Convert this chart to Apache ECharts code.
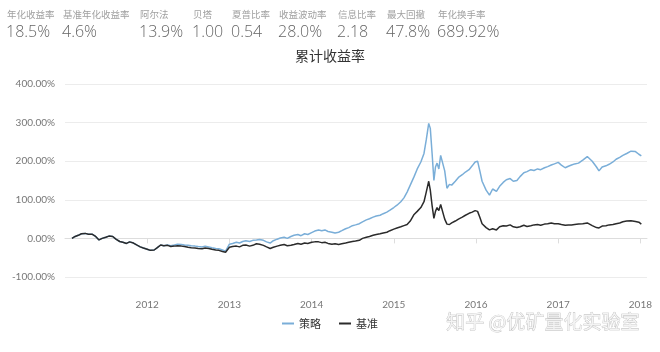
<!DOCTYPE html>
<html>
<head>
<meta charset="utf-8">
<script src="https://cdn.jsdelivr.net/npm/echarts@6/dist/echarts.min.js"></script>
<style>
  html, body { margin: 0; padding: 0; background: #fff; }
  #chart { width: 660px; height: 352px; }
</style>
</head>
<body>
<div id="chart"></div>
<script>
    // 指标
    var statNames = ['年化收益率', '基准年化收益率', '阿尔法', '贝塔', '夏普比率', '收益波动率', '信息比率', '最大回撤', '年化换手率'];
    var statValues = ['18.5%', '4.6%', '13.9%', '1.00', '0.54', '28.0%', '2.18', '47.8%', '689.92%'];

    var seriesNames = ['策略', '基准'];
    var yearTicks = [2012, 2013, 2014, 2015, 2016, 2017, 2018];

    // 累计收益率 (%)
    var dates = [
        '2011-02-01', '2011-02-15', '2011-03-01', '2011-03-15', '2011-04-01', '2011-04-15', '2011-05-01',
        '2011-05-15', '2011-06-01', '2011-06-15', '2011-07-01', '2011-07-15', '2011-08-01', '2011-08-15',
        '2011-09-01', '2011-09-15', '2011-10-01', '2011-10-15', '2011-11-01', '2011-11-15', '2011-12-01',
        '2011-12-15', '2012-01-01', '2012-01-15', '2012-02-01', '2012-02-15', '2012-03-01', '2012-03-15',
        '2012-04-01', '2012-04-15', '2012-05-01', '2012-05-15', '2012-06-01', '2012-06-15', '2012-07-01',
        '2012-07-15', '2012-08-01', '2012-08-15', '2012-09-01', '2012-09-15', '2012-10-01', '2012-10-15',
        '2012-11-01', '2012-11-15', '2012-12-01', '2012-12-15', '2013-01-01', '2013-01-15', '2013-02-01',
        '2013-02-15', '2013-03-01', '2013-03-15', '2013-04-01', '2013-04-15', '2013-05-01', '2013-05-15',
        '2013-06-01', '2013-06-15', '2013-07-01', '2013-07-15', '2013-08-01', '2013-08-15', '2013-09-01',
        '2013-09-15', '2013-10-01', '2013-10-15', '2013-11-01', '2013-11-15', '2013-12-01', '2013-12-15',
        '2014-01-01', '2014-01-15', '2014-02-01', '2014-02-15', '2014-03-01', '2014-03-15', '2014-04-01',
        '2014-04-15', '2014-05-01', '2014-05-15', '2014-06-01', '2014-06-15', '2014-07-01', '2014-07-15',
        '2014-08-01', '2014-08-15', '2014-09-01', '2014-09-15', '2014-10-01', '2014-10-15', '2014-11-01',
        '2014-11-15', '2014-12-01', '2014-12-15', '2015-01-01', '2015-01-15', '2015-02-01', '2015-02-15',
        '2015-03-01', '2015-03-15', '2015-04-01', '2015-04-15', '2015-05-01', '2015-05-15', '2015-05-25',
        '2015-06-05', '2015-06-12', '2015-06-20', '2015-06-28', '2015-07-05', '2015-07-12', '2015-07-20',
        '2015-07-28', '2015-08-05', '2015-08-15', '2015-08-25', '2015-09-05', '2015-09-15', '2015-10-01',
        '2015-10-15', '2015-11-01', '2015-11-15', '2015-12-01', '2015-12-15', '2015-12-28', '2016-01-08',
        '2016-01-18', '2016-01-28', '2016-02-15', '2016-03-01', '2016-03-15', '2016-04-01', '2016-04-15',
        '2016-05-01', '2016-05-15', '2016-06-01', '2016-06-15', '2016-07-01', '2016-07-15', '2016-08-01',
        '2016-08-15', '2016-09-01', '2016-09-15', '2016-10-01', '2016-10-15', '2016-11-01', '2016-11-15',
        '2016-12-01', '2016-12-15', '2017-01-01', '2017-01-15', '2017-02-01', '2017-02-15', '2017-03-01',
        '2017-03-15', '2017-04-01', '2017-04-20', '2017-05-10', '2017-06-01', '2017-06-20', '2017-07-01',
        '2017-07-15', '2017-08-01', '2017-08-15', '2017-09-01', '2017-09-15', '2017-10-01', '2017-10-15',
        '2017-11-01', '2017-11-20', '2017-12-10', '2017-12-25', '2018-01-05'
    ];
    var strategy = [
        0, 5, 8, 12, 13, 11, 11, 6, -4, 0, 3, 6, 5, -2,
        -8, -10, -13, -9, -12, -17, -22, -25, -28, -31, -30, -24, -17, -19,
        -17, -19, -17, -15, -16, -17, -18, -19, -20, -21, -22, -20, -22, -24,
        -26, -27, -30, -33, -15, -13, -10, -12, -8, -6, -8, -5, -4, -3,
        -5, -9, -12, -6, -2, 1, 3, 0, 5, 8, 10, 7, 12, 10,
        15, 19, 22, 20, 22, 18, 16, 14, 16, 20, 25, 28, 33, 35,
        38, 43, 48, 51, 55, 58, 60, 64, 68, 73, 80, 86, 95, 105,
        120, 138, 160, 180, 198, 220, 255, 298, 285, 220, 150, 185, 195, 180,
        215, 220, 175, 130, 140, 138, 148, 158, 165, 172, 178, 188, 198, 200,
        175, 148, 125, 112, 128, 122, 135, 145, 152, 155, 148, 150, 160, 170,
        173, 178, 176, 180, 178, 183, 186, 190, 193, 197, 190, 183, 187, 190,
        193, 195, 203, 212, 200, 185, 175, 185, 188, 192, 198, 205, 210, 215,
        220, 226, 225, 218, 214, 212, 210
    ];
    var benchmark = [
        0, 5, 8, 12, 13, 11, 11, 6, -4, 0, 3, 6, 5, -2,
        -8, -10, -13, -9, -12, -17, -22, -25, -28, -31, -30, -24, -17, -19,
        -18, -21, -20, -19, -20, -21, -23, -24, -25, -26, -27, -25, -26, -28,
        -30, -31, -34, -36, -23, -21, -20, -22, -18, -17, -20, -18, -14, -15,
        -18, -22, -26, -23, -20, -18, -16, -19, -18, -16, -13, -15, -12, -13,
        -10, -9, -9, -11, -10, -13, -15, -14, -16, -14, -12, -10, -8, -7,
        -5, 0, 3, 5, 8, 10, 12, 14, 16, 20, 24, 27, 30, 33,
        36, 45, 62, 70, 80, 95, 120, 148, 125, 85, 52, 70, 80, 72,
        88, 88, 50, 37, 36, 40, 45, 50, 55, 60, 65, 68, 72, 70,
        55, 38, 28, 22, 25, 22, 30, 33, 32, 35, 30, 28, 30, 34,
        31, 33, 35, 36, 34, 37, 38, 40, 38, 38, 36, 34, 35, 35,
        36, 37, 38, 40, 33, 28, 27, 32, 33, 35, 36, 38, 40, 43,
        45, 46, 44, 42, 37, 36, 36
    ];

    function toYear(s) {
        var p = s.split('-');
        var y = +p[0];
        var t = Date.UTC(y, +p[1] - 1, +p[2]);
        var t0 = Date.UTC(y, 0, 1), t1 = Date.UTC(y + 1, 0, 1);
        return y + (t - t0) / (t1 - t0);
    }

    var myChart = echarts.init(document.getElementById('chart'));

    var statLeft = [7, 63, 140, 193, 232, 279, 338, 387, 438];
    var graphics = [];
    statNames.forEach(function (name, i) {
        graphics.push({
            type: 'text', left: statLeft[i], top: 10,
            style: { text: name, fill: '#a0a0a0', font: '9.5px "Noto Sans CJK SC"' }
        });
        graphics.push({
            type: 'text', left: statLeft[i] - 1, top: 24,
            style: { text: statValues[i], fill: '#666', font: '300 16px "Open Sans"' }
        });
    });
    // 水印
    graphics.push({
        type: 'text', left: 446, top: 312,
        style: {
            text: '知乎 @优矿量化实验室', fill: '#f4f4f4', stroke: '#b8b8b8', lineWidth: 0.7,
            font: '19px "Noto Sans CJK SC"'
        }
    });

    var option = {
        animation: false,
        title: {
            text: '累计收益率', left: 'center', top: 44,
            textStyle: { fontSize: 14, fontWeight: 'normal', color: '#333', fontFamily: 'Noto Sans CJK SC' }
        },
        legend: {
            bottom: 18, left: 'center',
            itemWidth: 12, itemHeight: 2, itemGap: 18,
            icon: 'rect',
            textStyle: { fontSize: 11, color: '#333', fontFamily: 'Noto Sans CJK SC' },
            data: seriesNames
        },
        graphic: graphics,
        grid: { left: 65, right: 13, top: 84, bottom: 75 },
        xAxis: {
            type: 'value',
            min: 2011, max: 2018.08, interval: 1,
            offset: 15,
            axisLine: { lineStyle: { color: '#ddd' } },
            axisTick: { customValues: yearTicks, lineStyle: { color: '#ddd' } },
            axisLabel: {
                customValues: yearTicks,
                color: '#777', fontSize: 10, fontFamily: 'Lato',
                formatter: function (v) { return yearTicks.indexOf(v) >= 0 ? String(v) : ''; }
            },
            splitLine: { show: false }
        },
        yAxis: {
            type: 'value',
            min: -100, max: 400, interval: 100,
            axisLine: { show: false },
            axisTick: { show: false },
            axisLabel: {
                color: '#777', fontSize: 10, fontFamily: 'Lato', margin: 10,
                formatter: function (v) { return v.toFixed(2) + '%'; }
            },
            splitLine: { lineStyle: { color: '#ececec' } }
        },
        series: [
            {
                name: seriesNames[0], type: 'line', showSymbol: false, symbol: 'none',
                lineStyle: { width: 1.5, color: '#7aaed8' }, itemStyle: { color: '#7aaed8' },
                data: dates.map(function (d, i) { return [toYear(d), strategy[i]]; })
            },
            {
                name: seriesNames[1], type: 'line', showSymbol: false, symbol: 'none',
                lineStyle: { width: 1.5, color: '#2b2b2b' }, itemStyle: { color: '#2b2b2b' },
                data: dates.map(function (d, i) { return [toYear(d), benchmark[i]]; })
            }
        ]
    };
    myChart.setOption(option);
</script>
</body>
</html>
